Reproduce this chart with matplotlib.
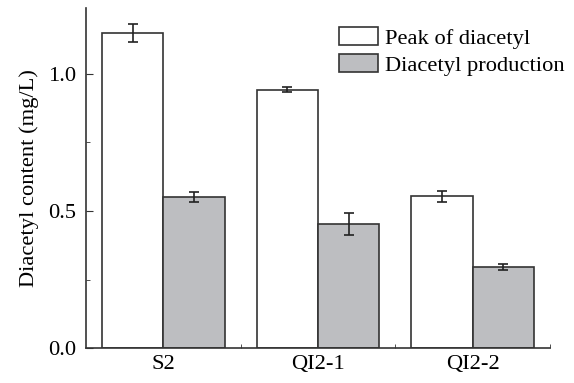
import numpy as np
import matplotlib.pyplot as plt
from matplotlib.ticker import MultipleLocator, FixedLocator

plt.rcParams['font.family'] = ['Liberation Serif', 'DejaVu Serif']
plt.rcParams['font.size'] = 16.2

strains = ['S2', 'QI2-1', 'QI2-2']
peak = [1.149, 0.943, 0.553]
peak_err = [0.032, 0.008, 0.02]
production = [0.551, 0.452, 0.297]
production_err = [0.019, 0.041, 0.011]

x = np.arange(len(strains))
w = 0.396

fig, ax = plt.subplots(figsize=(5.74, 3.83), dpi=100)
fig.subplots_adjust(left=0.15, right=0.958, top=0.979, bottom=0.091)

err_kw = dict(ecolor='#222222', elinewidth=1.2, capsize=3.5, capthick=1.2)
ax.bar(x - w / 2, peak, w, yerr=peak_err, color='white', edgecolor='#333333',
       linewidth=1.2, label='Peak of diacetyl', error_kw=err_kw)
ax.bar(x + w / 2, production, w, yerr=production_err, color='#bdbec1',
       edgecolor='#333333', linewidth=1.2, label='Diacetyl production', error_kw=err_kw)

ax.set_xlim(-0.5, 2.5)
ax.set_ylim(0, 1.24)
ax.set_xticks(x)
ax.set_xticklabels(strains)
ax.xaxis.set_minor_locator(FixedLocator([0.5, 1.5, 2.5]))
ax.tick_params(axis='x', which='major', length=0, pad=5)
ax.tick_params(axis='x', which='minor', direction='in', length=3, color='#333333')
ax.yaxis.set_major_locator(MultipleLocator(0.5))
ax.yaxis.set_minor_locator(MultipleLocator(0.25))
ax.tick_params(axis='y', which='major', direction='in', length=5, color='#333333', pad=7)
ax.tick_params(axis='y', which='minor', direction='in', length=3, color='#333333')
ax.yaxis.set_major_formatter(plt.FormatStrFormatter('%.1f'))

for s in ['top', 'right']:
    ax.spines[s].set_visible(False)
for s in ['left', 'bottom']:
    ax.spines[s].set_color('#333333')
    ax.spines[s].set_linewidth(1.2)

ax.set_ylabel('Diacetyl content (mg/L)', labelpad=7)
ax.legend(loc='upper left', frameon=False, handlelength=1.75, handleheight=0.85,
          handletextpad=0.3, labelspacing=0.25, borderaxespad=0, borderpad=0,
          bbox_to_anchor=(0.545, 0.944))

fig.savefig('out.png')
